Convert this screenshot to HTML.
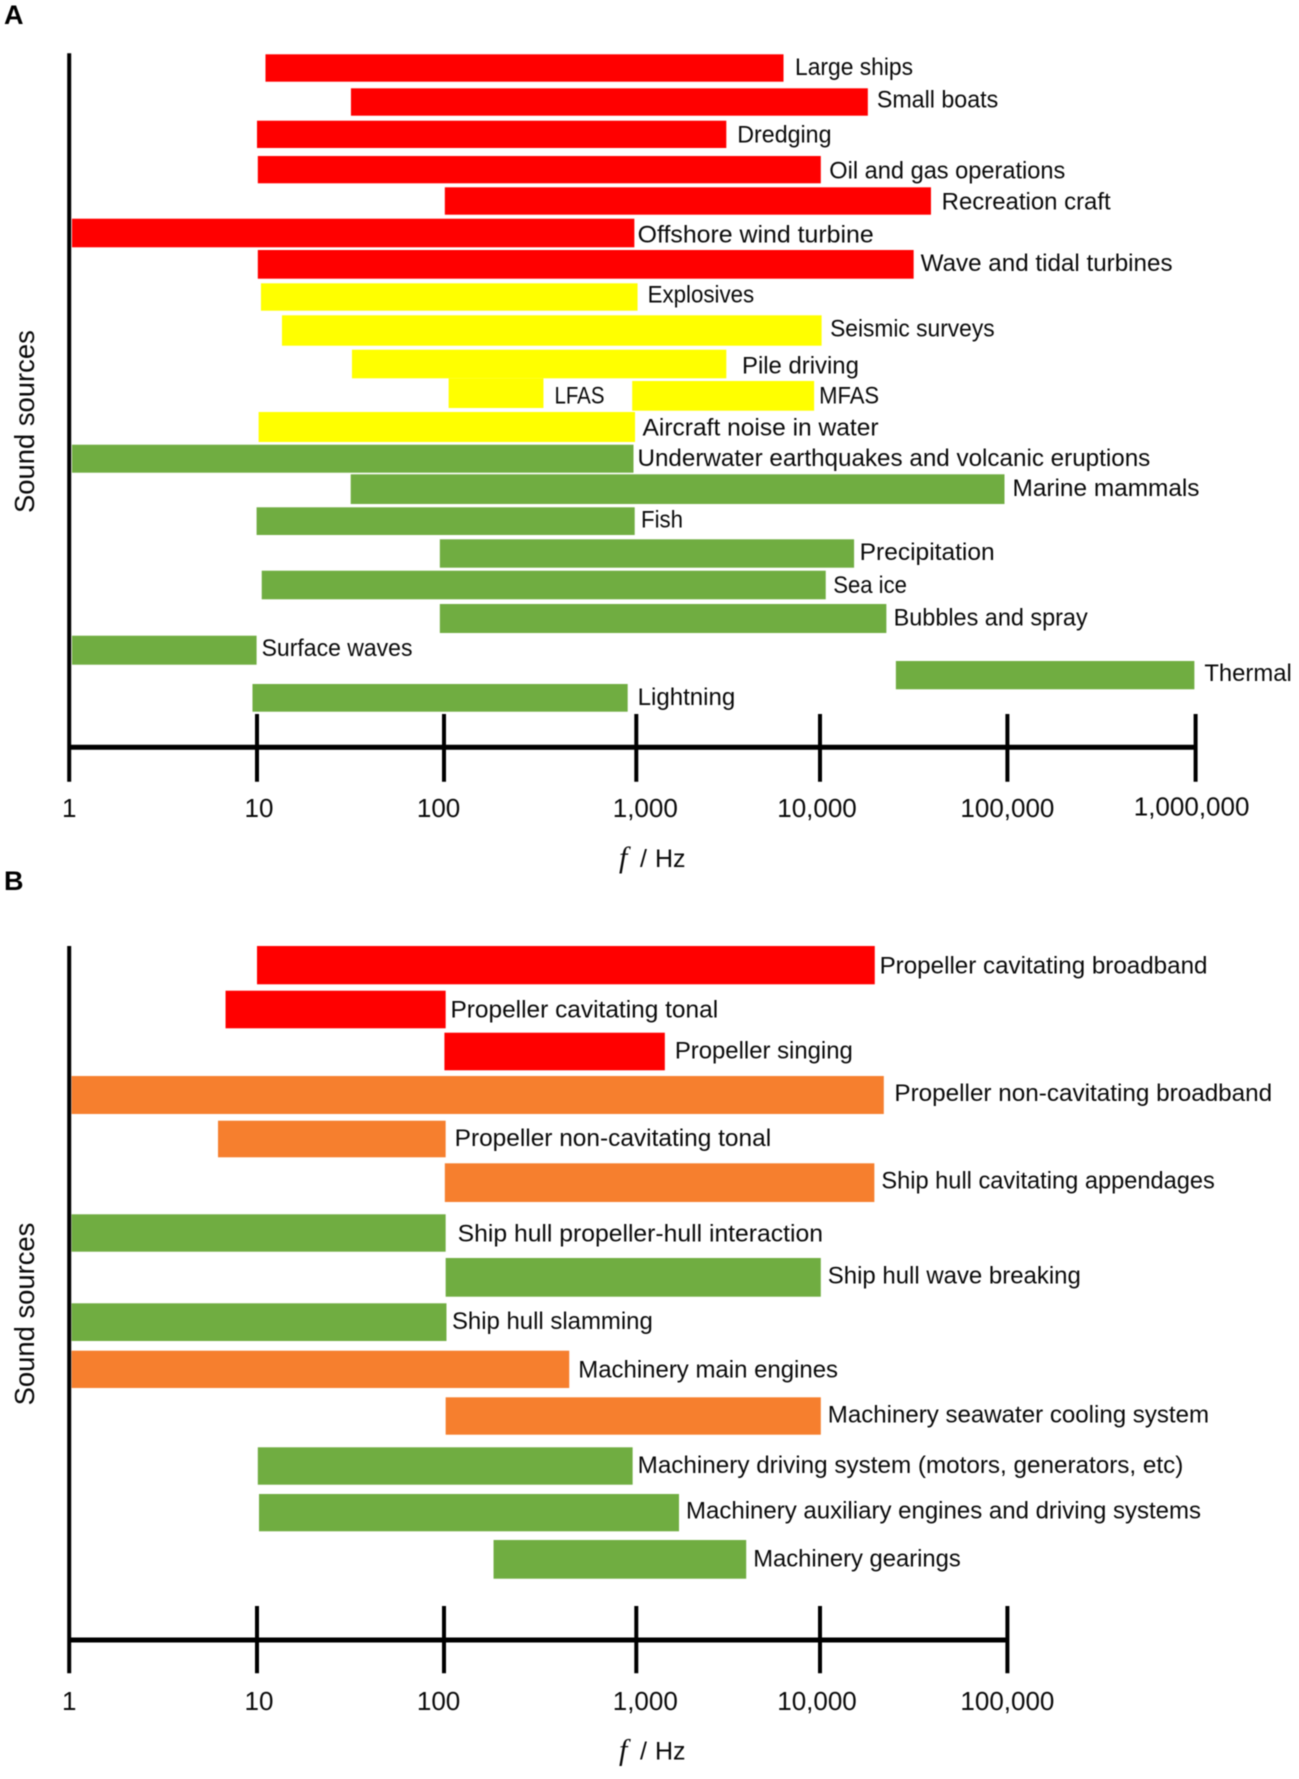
<!DOCTYPE html>
<html lang="en">
<head>
<meta charset="utf-8">
<title>Underwater sound sources by frequency</title>
<style>
html,body{margin:0;padding:0;background:#fff;width:1299px;height:1779px;overflow:hidden}
svg{display:block;filter:blur(0.4px)}
text{font-family:"Liberation Sans",sans-serif;fill:#0a0a0a}
</style>
</head>
<body>
<svg id="chart" xmlns="http://www.w3.org/2000/svg" width="1299" height="1779" viewBox="0 0 1299 1779">
  <rect x="0" y="0" width="1299" height="1779" fill="#ffffff"/>
  <text x="4" y="24" font-size="27" font-weight="700" style="fill:#000">A</text>
  <text x="4" y="890" font-size="27" font-weight="700" style="fill:#000">B</text>
</svg>
<script>
// ---- Panel A data (frequency ranges in Hz) ----
const categoriesA = ["Large ships","Small boats","Dredging","Oil and gas operations","Recreation craft","Offshore wind turbine","Wave and tidal turbines","Explosives","Seismic surveys","Pile driving","LFAS","MFAS","Aircraft noise in water","Underwater earthquakes and volcanic eruptions","Marine mammals","Fish","Precipitation","Sea ice","Bubbles and spray","Surface waves","Thermal","Lightning"];
const lowHzA = [11.1,31.8,10,10.1,101,1.035,10.1,10.5,13.6,32.2,105.7,952,10.2,1.035,31.7,9.95,95,10.6,95,1.035,25400,9.46];
const highHzA = [6330,18000,3090,10100,39100,977,31600,1016,10200,3090,329,9290,985,967,96500,981,15200,10730,22600,9.95,985000,902];
const groupsA = ["a","a","a","a","a","a","a","b","b","b","b","b","b","n","n","n","n","n","n","n","n","n"];
const tickValuesA = [1,10,100,1000,10000,100000,1000000];
const tickLabelsA = ["1","10","100","1,000","10,000","100,000","1,000,000"];

// ---- Panel B data (frequency ranges in Hz) ----
const categoriesB = ["Propeller cavitating broadband","Propeller cavitating tonal","Propeller singing","Propeller non-cavitating broadband","Propeller non-cavitating tonal","Ship hull cavitating appendages","Ship hull propeller-hull interaction","Ship hull wave breaking","Ship hull slamming","Machinery main engines","Machinery seawater cooling system","Machinery driving system (motors, generators, etc)","Machinery auxiliary engines and driving systems","Machinery gearings"];
const lowHzB = [10,6.8,100.5,1.03,6.2,101,1.03,102,1.03,1.03,102,10.1,10.25,181];
const highHzB = [19600,102,1430,21900,102,19500,102,10100,103,448,10100,957,1708,3965];
const groupsB = ["a","a","a","o","o","o","n","n","n","o","o","n","n","n"];
const tickValuesB = [1,10,100,1000,10000,100000];
const tickLabelsB = ["1","10","100","1,000","10,000","100,000"];

// ---- Layout calibration (not data) ----
const decadeAnchors = [69.2,257,444,636.3,820,1007.4,1195.6];
const tickLabelShift = {1:0,10:2,100:-5.4,1000:9,10000:-3,100000:0,1000000:-4};
const groupColor = {a:"#ff0000",b:"#ffff00",n:"#70ad41",o:"#f67f2e"};

const layoutA = {
  tops:[54.3,88.3,120.7,156,187.3,218.7,250,283.3,315.3,349.7,378.3,381,412,444.7,474.3,507.3,539.3,570.7,604,635.7,661,684],
  bottoms:[81.7,115.7,148,183.3,214.7,247.3,278.7,310.7,345.7,378.3,408,410.7,442,472.7,504,535,567.7,599.3,633,664.7,689.3,711.7],
  baselines:[75,107.7,142.3,178.7,209.3,242.3,271,302.7,336.7,373.3,403.7,403.7,435.7,466,496,527.3,560,593,625.3,656,681,705],
  gaps:[11.5,9,11,8.5,10.7,3.3,7,10,8.5,15.7,11,5,7.5,4,8,6.3,5.6,7.5,7.3,5,10,10],
  widths:[118,121.4,94.2,236,169,236,251.9,106.6,164.5,116.9,50,60,236,512.8,187,42,135,73.7,194,150.9,87.4,97.6],
  axisTop:53.3, axisY:747.3, tickTop:714, tickBottom:781.7,
  tickBaseline:817, titleBaseline:867, yTitleCenter:421.6
};
const layoutB = {
  tops:[946,990.7,1032.7,1076,1120.7,1163.3,1214.3,1258,1303.3,1350.7,1397.3,1447.3,1494,1540],
  bottoms:[984.3,1028.3,1070.3,1114,1157.3,1202,1251.7,1296.7,1341,1388,1434.7,1484.7,1531.3,1578.7],
  baselines:[973.3,1017.3,1058.3,1101,1146,1188.3,1241.7,1283.3,1329,1377.3,1422.7,1473,1518.7,1566.7],
  gaps:[4.8,4.8,10,10.6,9,7,12,7,5.5,9,7,5,7,7],
  widths:[327.9,267.7,178,377.8,316.5,333.5,365.3,253,200.8,259.8,381.2,545.7,515,207.6],
  axisTop:946, axisY:1640, tickTop:1606, tickBottom:1673.3,
  tickBaseline:1710, titleBaseline:1759.5, yTitleCenter:1314
};

const svg = document.getElementById('chart');
const NS = 'http://www.w3.org/2000/svg';

function xScale(hz){
  const lg = Math.log10(hz);
  const d = Math.max(0, Math.min(decadeAnchors.length - 2, Math.floor(lg)));
  return decadeAnchors[d] + (lg - d) * (decadeAnchors[d + 1] - decadeAnchors[d]);
}
function slug(s){
  return s.toLowerCase().replace(/[^a-z0-9]+/g,'-').replace(/^-|-$/g,'');
}
function drawLine(parent,x1,y1,x2,y2,w){
  const l = document.createElementNS(NS,'line');
  l.setAttribute('x1',x1);
  l.setAttribute('y1',y1);
  l.setAttribute('x2',x2);
  l.setAttribute('y2',y2);
  l.setAttribute('stroke','#000');
  l.setAttribute('stroke-width',w);
  parent.appendChild(l);
  return l;
}

function drawPanel(id,categories,lows,highs,groups,tickValues,tickLabels,layout){
  const g = document.createElementNS(NS,'g');
  
  
  svg.appendChild(g);

  categories.forEach(function(cat,i){
    const x0 = xScale(lows[i]);
    const x1 = xScale(highs[i]);
    const r = document.createElementNS(NS,'rect');
    r.setAttribute('x',x0);
    r.setAttribute('y',layout.tops[i]);
    r.setAttribute('width',x1 - x0);
    r.setAttribute('height',layout.bottoms[i] - layout.tops[i]);
    r.setAttribute('fill',groupColor[groups[i]]);
    
    
    g.appendChild(r);

    const t = document.createElementNS(NS,'text');
    t.setAttribute('x',x1 + layout.gaps[i]);
    t.setAttribute('y',layout.baselines[i]);
    t.setAttribute('font-size','24');
    t.setAttribute('textLength',layout.widths[i]);
    t.setAttribute('lengthAdjust','spacingAndGlyphs');
    t.textContent = cat;
    
    
    g.appendChild(t);
  });

  const yAxis = drawLine(g,69.2,layout.axisTop,69.2,layout.tickBottom,4);
  
  

  const last = tickValues[tickValues.length - 1];
  const xAxis = drawLine(g,69.2,layout.axisY,xScale(last),layout.axisY,5);
  
  

  tickValues.forEach(function(v,i){
    if(i > 0){
      const tk = drawLine(g,xScale(v),layout.tickTop,xScale(v),layout.tickBottom,4);
      
      
    }
    const lb = document.createElementNS(NS,'text');
    lb.setAttribute('x',xScale(v) + tickLabelShift[v]);
    lb.setAttribute('y',layout.tickBaseline - (v === 1000000 ? 1.5 : 0));
    lb.setAttribute('font-size','26');
    lb.setAttribute('text-anchor','middle');
    lb.textContent = tickLabels[i];
    
    
    g.appendChild(lb);
  });

  const title = document.createElementNS(NS,'text');
  title.setAttribute('y',layout.titleBaseline);
  title.setAttribute('font-size','25');
  
  
  const f = document.createElementNS(NS,'tspan');
  f.setAttribute('x',619);
  f.setAttribute('font-style','italic');
  f.style.fontFamily = '"Liberation Serif",serif';
  f.setAttribute('font-size','30');
  f.textContent = 'f';
  title.appendChild(f);
  const slash = document.createElementNS(NS,'tspan');
  slash.setAttribute('x',640);
  slash.textContent = '/';
  title.appendChild(slash);
  const hz = document.createElementNS(NS,'tspan');
  hz.setAttribute('x',655);
  hz.textContent = 'Hz';
  title.appendChild(hz);
  g.appendChild(title);

  const yt = document.createElementNS(NS,'text');
  yt.setAttribute('transform','translate(34 ' + layout.yTitleCenter + ') rotate(-90)');
  yt.setAttribute('font-size','27.4');
  yt.setAttribute('text-anchor','middle');
  yt.textContent = 'Sound sources';
  
  
  g.appendChild(yt);
}

drawPanel('a',categoriesA,lowHzA,highHzA,groupsA,tickValuesA,tickLabelsA,layoutA);
drawPanel('b',categoriesB,lowHzB,highHzB,groupsB,tickValuesB,tickLabelsB,layoutB);
</script>
</body>
</html>
